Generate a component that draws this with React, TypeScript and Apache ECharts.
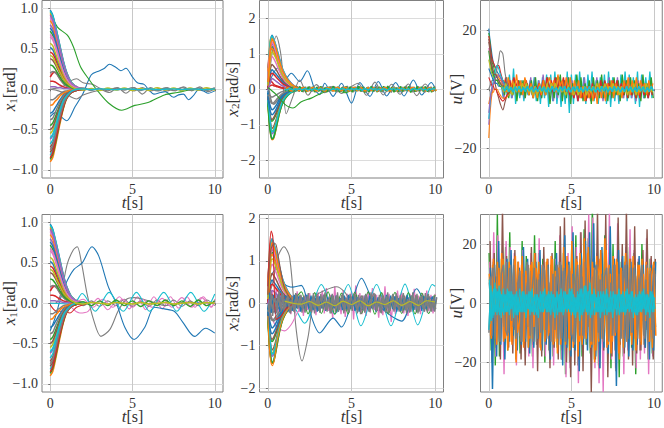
import { useEffect, useRef } from "react";
import * as echarts from "echarts";

const TAB10 = ["#1f77b4", "#ff7f0e", "#2ca02c", "#d62728", "#9467bd", "#8c564b", "#e377c2", "#7f7f7f", "#bcbd22", "#17becf"];
const FONT = "Liberation Serif";

const X_TICKS = [0, 5, 10];
const X1_TICKS = [-1, -0.5, 0, 0.5, 1];
const X2_TOP_TICKS = [-2, -1, 0, 1, 2];
const X2_BOTTOM_TICKS = [-2, -1, 0, 1, 2];
const U_TICKS = [-20, 0, 20];

// x1 bundle, both rows start from the same initial states
const T_DECAY = [0, 0.15, 0.3, 0.45, 0.6, 0.8, 1, 1.3, 1.7, 2.2];
const X1_DECAY = [
  [0.98, 0.92, 0.8, 0.67, 0.53, 0.35, 0.21, 0.08, 0.02, 0],
  [-0.9, -0.85, -0.72, -0.57, -0.42, -0.24, -0.12, -0.04, -0.01, 0],
  [0.72, 0.67, 0.58, 0.47, 0.36, 0.23, 0.13, 0.05, 0.01, 0],
  [0.15, 0.2, 0.21, 0.18, 0.13, 0.08, 0.04, 0.02, 0, 0],
  [-0.62, -0.58, -0.48, -0.37, -0.26, -0.15, -0.08, -0.03, 0, 0],
  [0.38, 0.36, 0.31, 0.25, 0.19, 0.12, 0.07, 0.03, 0.01, 0],
  [0.88, 0.83, 0.72, 0.6, 0.47, 0.31, 0.18, 0.07, 0.02, 0],
  [-0.13, -0.13, -0.11, -0.08, -0.06, -0.03, -0.02, -0.01, 0, 0],
  [0.95, 0.89, 0.78, 0.65, 0.51, 0.33, 0.2, 0.08, 0.02, 0],
  [-0.82, -0.76, -0.64, -0.5, -0.36, -0.21, -0.11, -0.04, -0.01, 0],
  [0.52, 0.49, 0.42, 0.34, 0.26, 0.17, 0.1, 0.04, 0.01, 0],
  [0.93, 0.88, 0.76, 0.63, 0.5, 0.33, 0.19, 0.07, 0.02, 0],
  [-0.45, -0.42, -0.35, -0.27, -0.19, -0.11, -0.06, -0.02, 0, 0],
  [0.1, 0.1, 0.09, 0.07, 0.05, 0.03, 0.02, 0.01, 0, 0],
  [0.8, 0.75, 0.65, 0.54, 0.42, 0.27, 0.16, 0.06, 0.01, 0],
  [-0.72, -0.67, -0.56, -0.43, -0.31, -0.18, -0.09, -0.03, 0, 0],
  [0.65, 0.61, 0.53, 0.43, 0.33, 0.21, 0.12, 0.05, 0.01, 0],
  [0.2, 0.22, 0.21, 0.17, 0.12, 0.07, 0.04, 0.02, 0, 0],
  [-0.55, -0.51, -0.42, -0.32, -0.23, -0.13, -0.07, -0.02, 0, 0],
  [0.97, 0.91, 0.79, 0.66, 0.52, 0.34, 0.2, 0.08, 0.02, 0],
  [-0.3, -0.28, -0.23, -0.18, -0.13, -0.07, -0.04, -0.01, 0, 0],
  [0.85, 0.8, 0.69, 0.57, 0.45, 0.29, 0.17, 0.06, 0.01, 0],
  [-0.87, -0.81, -0.69, -0.54, -0.39, -0.23, -0.11, -0.04, -0.01, 0],
  [0.46, 0.44, 0.38, 0.3, 0.23, 0.15, 0.09, 0.03, 0.01, 0],
  [0.03, 0.03, 0.03, 0.02, 0.02, 0.01, 0.01, 0, 0, 0],
  [-0.78, -0.73, -0.61, -0.47, -0.34, -0.2, -0.1, -0.03, -0.01, 0],
  [0.9, 0.85, 0.74, 0.61, 0.48, 0.31, 0.18, 0.07, 0.02, 0],
  [-0.38, -0.36, -0.29, -0.22, -0.16, -0.09, -0.05, -0.02, 0, 0],
  [0.57, 0.54, 0.46, 0.37, 0.29, 0.18, 0.11, 0.04, 0.01, 0],
  [-0.68, -0.63, -0.53, -0.41, -0.29, -0.17, -0.09, -0.03, 0, 0],
  [0.76, 0.71, 0.61, 0.5, 0.39, 0.25, 0.14, 0.05, 0.01, 0],
  [-0.2, -0.19, -0.15, -0.12, -0.08, -0.05, -0.03, -0.01, 0, 0],
  [0.3, 0.29, 0.25, 0.2, 0.15, 0.09, 0.05, 0.02, 0, 0],
  [-0.85, -0.79, -0.66, -0.52, -0.38, -0.22, -0.11, -0.04, -0.01, 0],
  [0.92, 0.86, 0.75, 0.62, 0.49, 0.32, 0.19, 0.07, 0.02, 0],
  [-0.5, -0.47, -0.39, -0.3, -0.21, -0.12, -0.06, -0.02, 0, 0],
  [0.68, 0.64, 0.55, 0.45, 0.34, 0.22, 0.13, 0.05, 0.01, 0],
  [-0.75, -0.7, -0.58, -0.45, -0.33, -0.19, -0.1, -0.03, 0, 0],
  [0.42, 0.4, 0.34, 0.27, 0.21, 0.13, 0.08, 0.03, 0, 0],
  [-0.6, -0.56, -0.47, -0.36, -0.25, -0.14, -0.08, -0.02, 0, 0],
];

// x1 top row, the slow trajectories
const A_BLUE_T = [0, 0.3, 0.6, 1, 1.5, 2, 2.5, 3, 3.3, 3.6, 4, 4.3, 4.6, 5, 5.3, 5.7, 6, 6.3, 6.7, 7, 7.5, 7.8, 8.1, 8.4, 8.7, 9, 9.3, 9.6, 10];
const A_BLUE = [-0.34, -0.29, -0.33, -0.39, -0.22, -0.05, 0.18, 0.23, 0.26, 0.31, 0.27, 0.23, 0.26, 0.15, 0.08, 0.06, -0.01, -0.06, -0.04, -0.03, -0.1, -0.07, -0.06, -0.13, -0.08, -0.01, -0.02, -0.05, -0.02];
const A_GREEN_T = [0, 0.44, 1.04, 1.4, 1.84, 2.38, 2.84, 3.54, 4.34, 5.14, 5.94, 6.94, 7.74, 8.5, 10];
const A_GREEN = [0.96, 0.77, 0.67, 0.53, 0.28, 0.115, -0.01, -0.17, -0.26, -0.2, -0.165, -0.07, -0.04, -0.01, 0];
const A_GREY_T = [0, 0.5, 1, 1.3, 1.6, 2, 2.6, 3.1, 3.6, 4.1, 4.6, 5.1, 5.6, 6.1, 6.6, 7.1, 7.6, 8.1, 8.6, 9.1, 9.6, 10];
const A_GREY_UP = [0, 0.02, 0.06, 0.11, 0.13, 0.08, 0.06, 0, -0.04, 0.02, -0.05, 0.02, -0.06, 0.02, -0.02, 0.02, -0.02, 0.03, -0.02, 0.03, -0.03, 0.01];
const A_GREY_DOWN = [0, -0.02, -0.06, -0.1, -0.12, -0.07, -0.03, -0.01, 0.01, -0.01, 0.01, -0.02, 0.02, -0.02, 0.01, -0.02, 0.01, -0.01, 0.01, -0.01, 0.01, 0];

// small residual band of x1, top row
const T_TAIL = [1.5, 2, 2.5, 3, 3.5, 4, 4.5, 5, 5.5, 6, 6.5, 7, 7.5, 8, 8.5, 9, 9.5, 10];
const A_TAIL_1 = [0.01, -0.01, 0.01, -0.015, 0.015, -0.01, 0.015, -0.015, 0.01, -0.015, 0.02, -0.01, 0.015, -0.02, 0.015, -0.01, 0.02, -0.015];
const A_TAIL_2 = [-0.01, 0.015, -0.015, 0.01, -0.02, 0.015, -0.01, 0.02, -0.015, 0.01, -0.02, 0.015, -0.015, 0.02, -0.01, 0.015, -0.015, 0.02];
const A_TAIL_3 = [0, 0.005, -0.005, 0.005, 0, -0.005, 0.005, 0, -0.005, 0.005, -0.005, 0, 0.005, -0.005, 0.005, 0, -0.005, 0.005];

// x1 bottom row
const B_BLUE_T = [0, 0.3, 0.6, 0.94, 1.44, 1.94, 2.54, 2.94, 3.54, 4.04, 4.54, 5.1, 5.74, 6.34, 6.94, 7.54, 8.04, 8.78, 9.44, 10];
const B_BLUE = [-0.34, -0.18, 0.04, 0.24, 0.42, 0.5, 0.7, 0.59, 0.2, -0.01, -0.3, -0.45, -0.3, -0.05, -0.07, -0.1, -0.23, -0.41, -0.31, -0.37];
const B_GREY_T = [0, 0.3, 0.64, 1.04, 1.4, 1.64, 1.9, 2.24, 2.64, 3.08, 3.64, 4.14, 4.64, 5.1, 6, 7, 8, 10];
const B_GREY = [0, 0, 0.115, 0.49, 0.66, 0.7, 0.5, 0.115, -0.21, -0.41, -0.32, -0.09, 0.05, 0.07, 0.03, -0.03, 0.01, 0];
const B_CYAN_T = [0, 1.4, 1.94, 2.74, 3.58, 4.44, 5.24, 6.04, 6.9, 7.7, 8.54, 9.34, 10];
const B_CYAN = [0, -0.01, 0.12, -0.1, 0.135, -0.1, 0.135, -0.1, 0.135, -0.1, 0.135, -0.1, 0.115];
const B_PINK_T = [0, 0.4, 0.8, 1.2, 1.8, 2.3, 2.9, 3.5, 4.2, 4.8, 5.3, 5.8, 6.3, 6.8, 7.3, 7.8, 8.3, 8.8, 9.3, 9.8, 10];
const B_PINK = [0.2, 0.22, 0.12, -0.03, -0.12, -0.1, 0.06, -0.08, 0.08, -0.07, 0.08, -0.08, 0.08, -0.07, 0.08, -0.06, 0.08, -0.05, 0.08, -0.04, 0.02];
const B_PINK_2_T = [1.5, 2, 2.6, 3.2, 3.8, 4.4, 5, 5.6, 6.2, 6.8, 7.4, 8, 8.6, 9.2, 9.8, 10];
const B_PINK_2 = [0, 0.05, -0.05, 0.05, -0.05, 0.05, -0.05, 0.05, -0.05, 0.06, -0.05, 0.07, -0.05, 0.07, -0.05, 0.05];
const B_RED_T = [0, 0.4, 0.8, 1.2, 1.6, 2.2];
const B_RED = [-0.02, -0.1, -0.1, -0.12, -0.05, -0.01];
const B_TAIL_1 = [0.02, -0.03, 0.03, -0.04, 0.03, -0.03, 0.05, -0.04, 0.03, -0.04, 0.04, -0.03, 0.04, -0.04, 0.03, -0.03, 0.04, -0.03];
const B_TAIL_2 = [-0.02, 0.02, -0.03, 0.03, -0.03, 0.04, -0.03, 0.03, -0.04, 0.03, -0.03, 0.04, -0.03, 0.03, -0.04, 0.04, -0.03, 0.03];
const B_TAIL_3 = [0, -0.01, 0.01, 0, -0.01, 0.01, 0, -0.01, 0.01, -0.01, 0, 0.01, -0.01, 0, 0.01, -0.01, 0.01, 0];

// x2 bundle
const T_RATE = [0, 0.08, 0.16, 0.25, 0.35, 0.5, 0.7, 0.9, 1.2, 1.6, 2.2];
const X2_DECAY = [
  [0.1, 0.9, 1.35, 1.52, 1.42, 1.2, 0.85, 0.55, 0.28, 0.09, 0.01],
  [-0.2, -0.9, -1.25, -1.42, -1.38, -1.1, -0.67, -0.38, -0.17, -0.05, -0.01],
  [0.3, 0.7, 1.05, 1.2, 1.15, 0.95, 0.68, 0.43, 0.2, 0.07, 0.01],
  [0.05, 0.3, 0.22, 0.2, 0.14, 0.1, 0.07, 0.04, 0.02, 0.01, 0],
  [-0.3, -0.8, -1.1, -1.25, -1.2, -0.98, -0.6, -0.33, -0.14, -0.04, 0],
  [0, 0.4, 0.6, 0.7, 0.65, 0.55, 0.38, 0.24, 0.12, 0.04, 0],
  [0.2, 1.0, 1.4, 1.48, 1.4, 1.18, 0.82, 0.52, 0.26, 0.08, 0.01],
  [-0.05, -0.15, -0.2, -0.22, -0.2, -0.16, -0.1, -0.06, -0.03, -0.01, 0],
  [0.4, 1.05, 1.42, 1.45, 1.38, 1.15, 0.8, 0.5, 0.25, 0.08, 0.01],
  [-0.1, -0.75, -1.2, -1.38, -1.33, -1.05, -0.64, -0.36, -0.16, -0.05, 0],
  [-0.15, 0.2, 0.45, 0.55, 0.5, 0.42, 0.3, 0.19, 0.09, 0.03, 0],
  [0.25, 0.95, 1.25, 1.38, 1.3, 1.08, 0.75, 0.48, 0.24, 0.08, 0.01],
  [-0.4, -0.7, -0.85, -0.9, -0.85, -0.7, -0.43, -0.24, -0.1, -0.03, 0],
  [0.02, 0.08, 0.1, 0.12, 0.1, 0.08, 0.05, 0.03, 0.01, 0, 0],
  [0.6, 0.95, 1.15, 1.28, 1.2, 1.0, 0.7, 0.44, 0.22, 0.07, 0.01],
  [-0.25, -0.65, -0.95, -1.1, -1.05, -0.85, -0.52, -0.29, -0.12, -0.03, 0],
  [0.1, 0.55, 0.8, 0.92, 0.86, 0.72, 0.5, 0.32, 0.16, 0.05, 0],
  [0.05, -0.05, -0.25, -0.38, -0.42, -0.36, -0.24, -0.14, -0.06, -0.02, 0],
  [-0.5, -0.8, -1.05, -1.18, -1.12, -0.92, -0.56, -0.31, -0.13, -0.04, 0],
  [0.15, 0.98, 1.38, 1.5, 1.4, 1.18, 0.83, 0.53, 0.27, 0.08, 0.01],
  [-0.1, -0.35, -0.5, -0.58, -0.55, -0.45, -0.28, -0.16, -0.07, -0.02, 0],
  [0.5, 0.9, 1.1, 1.15, 1.08, 0.9, 0.63, 0.4, 0.2, 0.06, 0],
  [-0.35, -0.95, -1.25, -1.4, -1.36, -1.08, -0.66, -0.37, -0.16, -0.05, 0],
  [0, 0.25, 0.4, 0.45, 0.42, 0.34, 0.24, 0.15, 0.07, 0.02, 0],
  [-0.02, 0.1, 0.2, 0.3, 0.28, 0.22, 0.15, 0.09, 0.04, 0.01, 0],
  [-0.2, -0.55, -0.78, -0.85, -0.8, -0.65, -0.4, -0.22, -0.09, -0.02, 0],
  [0.3, 0.8, 1.18, 1.33, 1.25, 1.05, 0.73, 0.46, 0.23, 0.07, 0.01],
  [-0.15, -0.25, -0.35, -0.4, -0.38, -0.3, -0.19, -0.11, -0.05, -0.01, 0],
  [0.1, 0.45, 0.9, 1.05, 1.0, 0.85, 0.6, 0.38, 0.19, 0.06, 0],
  [-0.3, -0.6, -0.98, -1.2, -1.16, -0.94, -0.58, -0.32, -0.14, -0.04, 0],
  [-0.2, -0.45, -0.65, -0.72, -0.68, -0.56, -0.34, -0.19, -0.08, -0.02, 0],
  [0.2, 0.65, 1.2, 1.42, 1.35, 1.12, 0.78, 0.5, 0.25, 0.08, 0.01],
];

// x2 top row, slow trajectories
const C_BLUE_T = [0, 0.6, 1, 1.4, 1.9, 2.36, 2.8, 3.1, 3.4, 3.9, 4.4, 5, 5.5, 6.1, 6.6, 7.1, 7.64, 8.14, 8.7, 9.2, 9.76, 10];
const C_BLUE = [0.1, 0.6, 0.25, 0.45, 0.22, 0.52, 0, -0.15, 0.17, -0.2, 0.17, -0.39, 0.19, -0.2, 0.22, -0.19, 0.19, -0.19, 0.26, -0.16, 0.19, 0.03];
const C_GREY_T = [0, 0.25, 0.5, 0.8, 1.1, 1.5, 1.9, 2.4, 2.9, 3.4, 3.9, 4.4, 4.9, 5.4, 5.9, 6.4, 6.9, 7.4, 7.9, 8.4, 8.9, 9.4, 9.9, 10];
const C_GREY = [0, 1.0, 1.5, 0.9, -0.69, -0.2, 0.26, -0.17, 0.13, -0.1, 0.08, -0.12, 0.05, 0.17, -0.17, 0.2, -0.16, 0.14, -0.14, 0.15, -0.18, 0.15, -0.06, 0.02];
const C_GREEN_T = [0, 0.5, 1, 1.5, 2, 2.6, 3.2, 4, 4.6, 5.4, 6, 7, 8, 9, 10];
const C_GREEN = [0.05, -0.15, -0.42, -0.53, -0.35, -0.25, -0.11, 0, -0.1, 0.04, -0.05, 0.04, -0.04, 0.03, 0];

// x2 top row residual band, starts at t = 1
const BAND_START = 1;
const C_BAND_1 = [0.04, -0.06, 0.06, -0.07, 0.07, -0.05, 0.08, -0.07, 0.05, -0.08, 0.07, -0.06, 0.08, -0.07, 0.06, -0.08, 0.07, -0.05, 0.08, -0.08, 0.06, -0.07, 0.08, -0.06, 0.07, -0.08, 0.06, -0.07, 0.08, -0.06, 0.09, -0.07, 0.06, -0.08, 0.07, -0.05, 0.08, -0.07, 0.06, -0.09, 0.07, -0.05, 0.08, -0.06, 0.09, -0.07, 0.05, -0.08, 0.07, -0.06, 0.08, -0.09, 0.06, -0.07, 0.05, -0.08, 0.07, -0.06, 0.09, -0.05, 0.07, -0.08, 0.06, -0.07, 0.08, -0.05, 0.07, -0.09, 0.06, -0.08, 0.07, -0.06, 0.08];
const C_BAND_2 = [-0.05, 0.05, -0.07, 0.06, -0.06, 0.07, -0.05, 0.08, -0.07, 0.06, -0.08, 0.07, -0.05, 0.07, -0.08, 0.06, -0.06, 0.08, -0.07, 0.05, -0.08, 0.07, -0.05, 0.08, -0.06, 0.07, -0.08, 0.05, -0.07, 0.08, -0.06, 0.07, -0.08, 0.06, -0.05, 0.08, -0.06, 0.07, -0.09, 0.05, -0.07, 0.08, -0.06, 0.05, -0.08, 0.07, -0.06, 0.08, -0.05, 0.09, -0.07, 0.06, -0.08, 0.05, -0.07, 0.08, -0.06, 0.07, -0.05, 0.08, -0.09, 0.06, -0.07, 0.08, -0.05, 0.07, -0.06, 0.08, -0.07, 0.05, -0.08, 0.06, -0.05];
const C_BAND_3 = [0.02, 0.04, -0.03, -0.05, 0.04, 0.05, -0.04, -0.03, 0.05, 0.03, -0.05, -0.04, 0.03, 0.05, -0.03, -0.05, 0.04, 0.03, -0.04, -0.05, 0.05, 0.03, -0.03, -0.05, 0.04, 0.05, -0.04, -0.03, 0.05, 0.04, -0.05, -0.03, 0.04, 0.05, -0.04, -0.03, 0.05, -0.02, -0.05, 0.04, 0.03, -0.04, 0.05, -0.03, -0.05, 0.04, -0.02, 0.05, 0.03, -0.04, -0.05, 0.04, 0.02, -0.05, 0.04, -0.03, 0.05, -0.04, 0.03, -0.05, 0.04, 0.05, -0.03, -0.04, 0.05, -0.02, 0.04, -0.05, 0.03, 0.04, -0.05, 0.03, -0.04];
const C_BAND_4 = [0, -0.02, 0.02, 0.01, -0.02, 0.02, -0.01, 0.02, -0.02, 0.01, 0.02, -0.02, 0.01, -0.02, 0.02, 0.01, -0.02, 0.02, -0.01, -0.02, 0.02, 0.01, -0.02, 0.02, -0.01, 0.02, -0.02, 0.01, 0.02, -0.02, 0.01, -0.02, 0.02, -0.01, 0.02, -0.02, 0.01, -0.03, 0.02, 0, -0.02, 0.03, -0.01, 0.02, -0.03, 0.01, -0.02, 0.02, 0, -0.03, 0.02, -0.01, 0.03, -0.02, 0.01, -0.02, 0.03, 0, -0.02, 0.02, -0.03, 0.01, 0.02, -0.02, 0, 0.03, -0.02, 0.01, -0.03, 0.02, -0.01, 0.02, 0];

// x2 bottom row, slow trajectories
const D_GREY_T = [0, 0.3, 0.6, 0.96, 1.3, 1.7, 2.04, 2.4, 2.8, 3.4, 4.1, 4.6, 5, 5.6, 6.2, 7, 8, 9, 10];
const D_GREY = [0.1, 0.5, 1.1, 1.33, 1.08, -0.64, -1.36, -0.8, 0.14, 0.3, 0.39, 0.26, 0, -0.15, 0.1, -0.08, 0.06, -0.05, 0.02];
const D_BLUE_T = [0, 0.5, 1, 1.5, 2, 2.5, 3.1, 3.9, 4.4, 5, 5.6, 6.2, 7.2, 8, 8.9, 9.4, 10];
const D_BLUE = [0.5, 0.8, 0.45, 0.38, 0.42, -0.2, -0.7, -0.35, -0.56, 0, 0.59, 0.14, -0.25, -0.42, 0.34, 0.1, 0.14];
const D_CYAN_T = [0, 0.8, 1.5, 2.2, 3.2, 4, 4.8, 5.56, 6.5, 7.36, 8.2, 8.96, 9.84, 10];
const D_CYAN = [0, 0.1, -0.05, -0.47, 0.44, -0.25, 0.44, -0.53, 0.44, -0.53, 0.45, -0.51, 0.44, 0.4];
const D_GREEN_T = [1.2, 1.6, 2, 2.4, 2.8, 3.2, 3.6, 4, 4.4, 4.8, 5.2, 5.6, 6, 6.4, 6.8, 7.2, 7.6, 8, 8.4, 8.8, 9.2, 9.6, 10];
const D_GREEN = [0.05, 0.1, 0.27, -0.25, 0.25, -0.24, 0.27, -0.26, 0.24, -0.25, 0.26, -0.24, 0.27, -0.26, 0.25, -0.25, 0.26, -0.24, 0.25, -0.25, 0.24, -0.24, 0.2];
const D_RED_T = [0, 0.1, 0.2, 0.3, 0.5, 0.8, 1.1, 1.5];
const D_RED = [0.4, 1.3, 1.7, 1.55, -0.38, -0.3, -0.12, -0.02];
const D_ORANGE_T = [0, 0.1, 0.2, 0.28, 0.4, 0.6, 0.9, 1.3];
const D_ORANGE = [-0.3, -1.1, -1.42, -1.47, -1.3, -0.8, -0.35, -0.08];
const D_BROWN_T = [0, 0.15, 0.3, 0.45, 0.6, 0.8, 1, 1.4];
const D_BROWN = [0.2, 1.2, 1.38, 1.4, 1.15, 0.7, 0.35, 0.08];
const D_PINK_T = [0, 0.5, 1, 1.4, 1.8, 2.2];
const D_PINK = [-0.1, -0.55, -0.65, -0.5, -0.2, -0.03];
const D_YELLOW_T = [1, 1.5, 2, 2.5, 3, 3.5, 4, 4.5, 5, 5.5, 6, 6.5, 7, 7.5, 8, 8.5, 9, 9.5, 10];
const D_YELLOW = [0.05, 0, -0.02, 0.04, -0.05, 0.03, -0.06, 0.05, -0.03, 0.06, -0.06, 0.03, -0.03, 0.06, -0.05, 0.04, -0.05, 0.06, 0.03];

// x2 bottom row noise, one sample every 0.125 s
const NOISE_STEP = 0.125;
const D_NOISE_1 = [0.1, -0.35, 0.3, -0.22, 0.36, -0.28, 0.2, -0.3, 0.24, -0.18, 0.22, -0.26, 0.18, -0.24, 0.28, -0.2, 0.16, -0.3, 0.22, -0.16, 0.24, -0.22, 0.18, -0.28, 0.26, -0.2, 0.3, -0.24, 0.36, -0.18, 0.2, -0.36, 0.4, -0.22, 0.16, -0.26, 0.3, -0.32, 0.22, -0.18, 0.28, -0.38, 0.42, -0.2, 0.24, -0.26, 0.18, -0.3, 0.28, -0.22, 0.36, -0.16, 0.2, -0.34, 0.24, -0.28, 0.4, -0.2, 0.22, -0.44, 0.18, -0.26, 0.3, -0.18, 0.26, -0.24, 0.16, -0.3, 0.22, -0.2, 0.34, -0.22, 0.18, -0.26, 0.24, -0.2, 0.3, -0.18, 0.2, -0.24, 0.22];
const D_NOISE_2 = [-0.2, 0.28, -0.3, 0.26, -0.24, 0.3, -0.2, 0.22, -0.16, 0.2, -0.22, 0.16, -0.2, 0.24, -0.14, 0.2, -0.22, 0.18, -0.16, 0.24, -0.2, 0.14, -0.24, 0.2, -0.18, 0.22, -0.14, 0.26, -0.2, 0.16, -0.24, 0.18, -0.22, 0.26, -0.16, 0.2, -0.24, 0.14, -0.2, 0.22, -0.18, 0.24, -0.16, 0.2, -0.26, 0.18, -0.22, 0.16, -0.2, 0.26, -0.14, 0.22, -0.18, 0.2, -0.24, 0.16, -0.22, 0.26, -0.18, 0.14, -0.2, 0.24, -0.16, 0.2, -0.22, 0.18, -0.24, 0.14, -0.2, 0.26, -0.16, 0.22, -0.2, 0.18, -0.14, 0.24, -0.22, 0.16, -0.2, 0.18, -0.14];
const D_NOISE_3 = [0.25, -0.22, 0.2, -0.26, 0.18, -0.2, 0.24, -0.14, 0.18, -0.2, 0.12, -0.18, 0.2, -0.12, 0.16, -0.2, 0.14, -0.16, 0.2, -0.12, 0.18, -0.16, 0.12, -0.2, 0.16, -0.12, 0.2, -0.18, 0.14, -0.16, 0.2, -0.12, 0.18, -0.2, 0.12, -0.16, 0.18, -0.14, 0.2, -0.12, 0.16, -0.18, 0.14, -0.2, 0.12, -0.16, 0.2, -0.14, 0.18, -0.12, 0.16, -0.2, 0.14, -0.18, 0.12, -0.16, 0.2, -0.12, 0.18, -0.14, 0.16, -0.2, 0.12, -0.18, 0.14, -0.16, 0.2, -0.12, 0.18, -0.16, 0.14, -0.2, 0.12, -0.18, 0.16, -0.14, 0.2, -0.12, 0.16, -0.18, 0.14];
const D_NOISE_4 = [-0.12, 0.1, -0.14, 0.12, -0.1, 0.14, -0.12, 0.1, -0.08, 0.12, -0.1, 0.08, -0.12, 0.1, -0.08, 0.12, -0.1, 0.08, -0.12, 0.14, -0.08, 0.1, -0.12, 0.08, -0.1, 0.12, -0.08, 0.1, -0.14, 0.08, -0.1, 0.12, -0.08, 0.14, -0.1, 0.08, -0.12, 0.1, -0.08, 0.12, -0.14, 0.08, -0.1, 0.12, -0.08, 0.1, -0.12, 0.14, -0.08, 0.1, -0.12, 0.08, -0.1, 0.14, -0.08, 0.12, -0.1, 0.08, -0.12, 0.1, -0.14, 0.08, -0.1, 0.12, -0.08, 0.1, -0.12, 0.08, -0.14, 0.1, -0.08, 0.12, -0.1, 0.08, -0.12, 0.14, -0.08, 0.1, -0.12, 0.08, -0.1];
const D_NOISE_5 = [-0.16, 0.2, 0.05, -0.22, 0.18, -0.08, 0.24, -0.2, 0.1, 0.16, -0.24, 0.06, -0.18, 0.22, -0.1, 0.2, -0.06, -0.22, 0.16, 0.08, -0.2, 0.24, -0.12, 0.18, -0.22, 0.04, 0.2, -0.16, 0.1, -0.24, 0.22, -0.08, 0.18, -0.2, 0.06, 0.24, -0.18, 0.12, -0.22, 0.16, -0.04, 0.2, -0.24, 0.1, 0.18, -0.16, 0.22, -0.08, -0.2, 0.14, 0.24, -0.18, 0.06, -0.22, 0.2, -0.1, 0.16, -0.24, 0.08, 0.22, -0.14, 0.18, -0.2, 0.04, 0.24, -0.16, 0.1, -0.22, 0.18, -0.06, 0.2, -0.24, 0.12, 0.16, -0.2, 0.08, 0.22, -0.18, 0.1, -0.2, 0.14];

// u top row, first second
const T_EFFORT = [0, 0.07, 0.14, 0.21, 0.28, 0.35, 0.42, 0.5, 0.6, 0.7, 0.85, 1, 1.2, 1.5];
const E_DECAY = [
  [20.5, 17, 14, 11, 9, 8, 7, 6, 5, 4, 3, 2, 1, 0],
  [-16.5, -9, -4, -1, 1, 3, 4, 5, 4, 3, 2, 1, 0, 0],
  [19, 16, 12, 9, 8, 6, 5, 4, 3, 2, 1, 1, 0, 0],
  [18, 15, 12, 10, 9, 8, 7, 8, 8, 6, 3, 1, 0, 0],
  [-12, -6, -2, 0, 2, 2, 3, 3, 3, 2, 1, 1, 0, 0],
  [17, 14, 10, 8, 5, 3, 1, -1, -3, -5, -7, -4, -1, 0],
  [14, 11, 8, 6, 5, 4, 3, 3, 2, 2, 1, 0, 0, 0],
  [0, 1, 2, 3, 3, 4, 5, 7, 10, 13, 12, 5, 1, 0],
  [10, 8, 6, 5, 4, 4, 3, 3, 2, 2, 1, 0, 0, 0],
  [-10, -5, -1, 1, 3, 5, 7, 8, 7, 5, 3, 1, 0, 0],
  [7, 6, 5, 4, 3, 3, 2, 2, 1, 1, 0, 0, 0, 0],
  [-5, -3, -2, -1, -1, 0, 0, 0, -1, -2, -3, -3, -2, 0],
  [13, 10, 8, 6, 5, 4, 3, 3, 2, 1, 1, 0, 0, 0],
  [4, 3, 2, 1, 1, 0, 0, -1, -2, -3, -4, -3, -1, 0],
  [-8, -4, -1, 1, 2, 3, 4, 4, 5, 4, 2, 1, 0, 0],
  [16, 13, 9, 7, 6, 5, 5, 4, 3, 2, 1, 1, 0, 0],
];

// u top row noise, starts at t = 0.75
const NOISE_START_TOP = 0.75;
const E_NOISE_PURPLE = [2, -3, 3, -2, 3, -3, 2, -2, 3, -2, 2, -3, 2, -2, 4, -3, 4, -2, 3, -3, 5, -2, 4, -3, 3, -4, 2, -3, 4, -3, 3, -2, 4, -4, 3, -3, 2, -4, 3, -2, 4, -3, 2, -4, 3, -3, 4, -2, 3, -4, 2, -3, 4, -3, 3, -2, 4, -4, 2, -3, 3, -2, 4, -3, 2, -4, 3, -2, 4, -3, 2, -3, 3, -2];
const E_NOISE_GREEN = [3, -2, 4, -3, 2, -2, 3, -4, 3, -2, 3, -3, 2, -2, 3, -3, 4, -4, 2, -3, 3, -2, 4, -5, 2, -3, 4, -2, 5, -4, 3, -3, 4, -5, 2, -2, 5, -3, 4, -4, 2, -3, 3, -5, 4, -2, 3, -3, 5, -3, 2, -4, 3, -3, 4, -2, 3, -4, 5, -2, 3, -3, 4, -2, 3, -3, 2, -4, 5, -3, 2, -2, 4, -3];
const E_NOISE_RED = [4, -1, 4, 1, 3, 0, 4, 1, 3, -1, 2, 1, 3, -1, 2, -2, 1, -2, 2, -2, 3, -1, 4, 0, 3, -1, 4, 0, 3, 1, 4, -1, 2, -2, 1, -3, 0, -4, 1, -3, 0, -4, 1, -3, 2, -3, 1, -2, 3, -1, 3, 0, 2, -1, 3, 0, 3, -1, 2, -2, 2, -3, 1, -2, 2, -3, 1, -3, 2, -2, 1, -3, 1, -2];
const E_NOISE_ORANGE = [1, 3, -1, 4, -1, 3, 0, 5, -1, 3, -2, 4, 1, -2, 2, -3, 1, -3, 2, -2, 3, -2, 2, 4, 0, 3, -1, 5, 1, 3, -1, 4, 0, 4, -2, 3, -1, 3, -3, 1, -4, 1, -3, 0, -4, 1, -5, 2, -3, 1, -4, 2, -2, 3, -3, 2, -2, 1, -3, 3, -1, 4, -2, 3, -1, 4, -2, 3, 0, 2, -2, 3, -1, 2];
const E_NOISE_CYAN = [2, -3, 1, -2, 5, -3, 7, -5, 2, -3, 3, -4, 2, -2, 3, -2, 4, -4, 3, -5, 4, -3, 5, -6, 5, -4, 6, -5, 4, -6, 3, -5, 6, -8, 5, -5, 5, -4, 6, -3, 4, -5, 5, -3, 6, -4, 3, -5, 4, -3, 5, -5, 6, -6, 4, -4, 3, -5, 5, -3, 6, -4, 5, -3, 4, -5, 6, -6, 5, -3, 4, -3, 6, -3];
const E_NOISE_OLIVE = [1, -1, 2, -1, 1, -2, 2, -1, 1, -1, 2, 0, 2, -1, 1, -2, 1, -2, 0, -1, 1, -1, 2, -1, 2, 0, 2, -1, 1, -1, 0, -2, 1, -1, 0, -2, 1, -2, 0, -1, 1, -2, 0, -1, 1, -1, 2, 0, 1, -1, 2, -1, 1, 0, 2, -1, 1, -2, 1, -1, 0, -2, 1, -1, 2, -2, 0, -1, 1, -1, 2, -1, 1, -1];
const E_NOISE_CENTRE = [0.8, -0.6, 1, -0.8, 0.6, -1, 0.8, -0.6, 1, -0.8, 0.6, -0.8, 1, -0.6, 0.8, -1, 0.6, -0.8, 1, -0.6, 0.8, -1, 0.6, -0.8, 1, -0.8, 0.6, -1, 0.8, -0.6, 1, -0.8, 0.6, -1, 0.8, -0.6, 1, -0.8, 0.6, -1, 0.8, -0.6, 1, -0.6, 0.8, -1, 0.6, -0.8, 1, -0.6, 0.8, -1, 0.6, -0.8, 1, -0.6, 0.8, -1, 0.6, -0.8, 1, -0.6, 0.8, -1, 0.6, -0.8, 1, -0.6, 0.8, -1, 0.6, -0.8, 1, -0.6];

// u bottom row noise, starts at t = 0
const F_PINK = [14, -13, 24, -18, 23, -12, 16, -24, 21, -14, 19, -11, 17, -21, 14, -13, 18, -16, 13, -18, 17, -22, 15, -14, 22, -15, 13, -18, 14, -17, 16, -21, 15, -13, 23, -19, 18, -25, 17, -22, 26, -14, 19, -27, 24, -16, 21, -13, 30, -18, 29, -22, 17, -27, 16, -30, 20, -15, 31, -19, 16, -22, 27, -17, 15, -24, 19, -16, 25, -14, 18, -22, 15, -19, 13, -17, 22, -24, 15, -18, 13];
const F_BROWN = [21, -20, 17, -15, 14, -19, 32, -13, 16, -15, 14, -17, 18, -14, 12, -19, 16, -21, 13, -15, 19, -14, 17, -23, 14, -18, 19, -13, 15, -22, 17, -15, 13, -19, 26, -16, 29, -20, 14, -25, 18, -21, 16, -19, 24, -23, 28, -14, 18, -30, 15, -19, 32, -22, 17, -16, 30, -25, 13, -18, 15, -23, 29, -14, 20, -17, 32, -19, 15, -21, 26, -17, 14, -16, 18, -15, 25, -13, 16, -19, 15];
const F_GREEN = [17, -16, 14, -21, 30, -18, 15, -13, 19, -16, 24, -12, 15, -19, 14, -17, 21, -13, 16, -15, 12, -18, 23, -14, 17, -13, 15, -20, 14, -16, 13, -18, 21, -15, 14, -19, 17, -24, 13, -20, 19, -15, 23, -21, 15, -18, 25, -14, 22, -17, 33, -19, 14, -21, 18, -16, 23, -14, 17, -22, 20, -16, 15, -25, 14, -18, 16, -13, 19, -15, 17, -24, 14, -16, 20, -14, 13, -19, 15, -17, 14];
const F_BLUE_OUT = [12, -29, 13, -18, 21, -14, 12, -19, 15, -13, 18, -11, 13, -16, 12, -14, 19, -13, 15, -17, 12, -15, 14, -12, 18, -16, 11, -14, 13, -19, 15, -12, 17, -14, 13, -21, 23, -15, 14, -18, 24, -16, 14, -23, 17, -14, 21, -16, 24, -15, 27, -18, 13, -22, 19, -15, 14, -17, 26, -13, 15, -28, 18, -12, 16, -15, 13, -18, 14, -16, 12, -14, 16, -12, 13, -15, 11, -19, 13, -16, 14];
const F_ORANGE = [10, -12, 15, -10, 14, -12, 17, -13, 12, -16, 10, -14, 13, -20, 14, -11, 16, -13, 11, -15, 13, -12, 17, -11, 14, -16, 12, -13, 15, -10, 16, -14, 11, -17, 13, -12, 19, -14, 12, -16, 21, -13, 15, -18, 17, -14, 22, -12, 19, -15, 14, -20, 16, -13, 18, -12, 22, -15, 13, -17, 16, -11, 14, -19, 12, -15, 17, -12, 15, -14, 11, -16, 13, -12, 15, -11, 14, -13, 12, -15, 11];
const F_ORANGE_2 = [-11, 13, 6, -14, 12, -5, 15, -12, -7, 14, -13, 9, 16, -10, -6, 13, -15, 11, 5, -12, 14, -8, 12, 7, -15, 13, -9, 14, -11, -6, 15, -13, 8, 12, -14, 10, -7, 16, -12, 11, -15, 6, 14, -13, -8, 15, -11, 17, 7, -14, 12, -16, 9, 15, -12, -7, 18, -14, 10, -13, 6, 15, -17, 12, -9, 14, -13, 7, -11, 16, -12, 8, 13, -14, 10, -6, 12, -13, 9, 14, -11];
const F_GREY = [9, -11, 13, -9, 12, -13, 11, -8, 14, -10, 13, -8, 12, -11, 9, -13, 10, -12, 14, -8, 11, -13, 9, -12, 10, -14, 12, -9, 13, -10, 11, -13, 9, -12, 14, -10, 12, -8, 13, -11, 10, -14, 12, -9, 13, -11, 14, -10, 12, -13, 9, -14, 11, -12, 10, -13, 14, -9, 12, -11, 13, -10, 9, -13, 11, -12, 14, -8, 12, -10, 13, -9, 11, -13, 10, -12, 13, -9, 11, -12, 10];
const F_GREY_2 = [-10, 8, 12, -12, 5, -13, 10, 13, -9, -11, 12, -6, 13, -12, 7, 11, -13, 9, -8, 13, -11, 6, 12, -13, 8, -10, 13, 11, -12, 7, -13, 10, -9, 13, 6, -12, 11, -13, 8, 12, -10, -13, 7, 13, -11, 9, -12, 12, -8, 6, -13, 11, 13, -10, 8, -12, 9, 12, -13, 7, -11, 13, -9, 10, -12, 6, 13, -13, 8, -10, 12, 9, -12, 7, 13, -11, 8, -13, 10, -9, 12];
const F_BLUE_MID = [7, -9, 8, -7, 9, -6, 7, -8, 6, -9, 5, -7, 8, -6, 7, -9, 6, -8, 7, -5, 9, -6, 8, -7, 5, -9, 7, -6, 8, -8, 6, -7, 9, -5, 7, -8, 6, -9, 8, -7, 5, -8, 9, -6, 7, -9, 6, -8, 7, -5, 9, -7, 6, -8, 8, -6, 5, -9, 7, -8, 9, -6, 7, -5, 8, -9, 6, -7, 8, -6, 9, -5, 7, -8, 6, -7, 9, -6, 8, -5, 7];
const F_BLUE_2 = [-8, 6, -3, 9, -7, 2, 8, -9, 4, -6, 8, -2, -9, 7, -5, 9, -3, 6, -8, 4, 7, -9, 3, -6, 9, -4, 5, -8, 7, -2, 9, -6, 3, -9, 8, -5, 4, 9, -7, -3, 8, -9, 5, -6, 9, -2, 7, -8, 4, -5, 9, -7, 3, 8, -9, 6, -4, 7, -8, 2, 9, -6, 5, -9, 4, 7, -3, -8, 6, -5, 9, -7, 2, 8, -6, 4, -9, 7, -3, 6, -8];
const F_CYAN_1 = [-9, 6, -5, 7, -4, 6, -5, 5, -3, 5, -4, 4, -5, 3, -4, 5, -3, 4, -5, 3, -4, 5, -4, 3, -5, 4, -3, 5, -3, 4, -4, 3, -5, 4, -3, 5, -4, 4, -3, 5, -4, 3, -5, 4, -6, 5, -3, 6, -4, 7, -4, 5, -3, 4, -5, 3, -4, 5, -3, 4, -5, 3, -4, 5, -3, 4, -4, 5, -3, 4, -5, 3, -4, 4, -3, 5, -4, 3, -5, 4, -3];
const F_CYAN_2 = [-7, 4, -4, 5, -3, 4, -3, 3, -3, 4, -2, 3, -3, 4, -3, 2, -3, 3, -2, 4, -3, 2, -3, 3, -2, 3, -3, 2, -3, 3, -2, 3, -2, 3, -3, 2, -3, 3, -2, 4, -3, 2, -3, 3, -4, 3, -2, 4, -3, 3, -2, 3, -3, 2, -3, 4, -2, 3, -3, 2, -3, 3, -2, 3, -3, 2, -3, 3, -2, 4, -3, 2, -3, 3, -2, 3, -3, 2, -2, 3, -2];
const F_CYAN_3 = [8, -6, 5, -3, 4, -4, 3, -4, 3, -3, 4, -2, 3, -4, 2, -3, 4, -3, 3, -2, 4, -3, 3, -4, 2, -3, 4, -2, 3, -3, 4, -3, 2, -4, 3, -3, 4, -2, 3, -3, 5, -4, 2, -3, 5, -4, 6, -3, 4, -5, 3, -4, 2, -3, 4, -3, 3, -4, 2, -3, 4, -2, 3, -4, 3, -3, 4, -2, 3, -3, 2, -4, 3, -3, 4, -2, 3, -3, 4, -3, 2];

type Trace = { t: number[]; v: number[]; color: string; smooth?: boolean; width?: number };

function cycle(t: number[], rows: number[][], width = 1.5): Trace[] {
  return rows.map((v, i) => ({ t, v, color: TAB10[i % 10], smooth: true, width }));
}

function noise(v: number[], color: string, start = 0, width = 1.3): Trace {
  return { t: v.map((_, i) => start + i * NOISE_STEP), v, color, width };
}

const tail = (v: number[], color: string): Trace => ({ t: T_TAIL, v, color, smooth: true, width: 1.4 });
const slow = (t: number[], v: number[], color: string): Trace => ({ t, v, color, smooth: true, width: 1.1 });

const [BLUE, ORANGE, GREEN, RED, PURPLE, BROWN, PINK, GREY, OLIVE, CYAN] = TAB10;

const PANELS = [
  {
    left: 39.5, top: 0.5, width: 183.5, height: 177.5, ticks: X1_TICKS, digits: 1, min: -1.1, max: 1.1, nameGap: 24,
    name: "{i|x}{sub|1}{r|[rad]}",
    traces: [
      slow(A_BLUE_T, A_BLUE, BLUE),
      slow(A_GREY_T, A_GREY_UP, GREY),
      slow(A_GREY_T, A_GREY_DOWN, GREY),
      slow(A_GREEN_T, A_GREEN, GREEN),
      ...cycle(T_DECAY, X1_DECAY),
      tail(A_TAIL_1, OLIVE),
      tail(A_TAIL_2, GREY),
      tail(A_TAIL_3, CYAN),
    ],
  },
  {
    left: 259.5, top: 0.5, width: 184, height: 177.5, ticks: X2_TOP_TICKS, digits: 0, min: -2.5, max: 2.5, nameGap: 19,
    name: "{i|x}{sub|2}{r|[rad/s]}",
    traces: [
      slow(C_BLUE_T, C_BLUE, BLUE),
      slow(C_GREY_T, C_GREY, GREY),
      ...cycle(T_RATE, X2_DECAY),
      slow(C_GREEN_T, C_GREEN, GREEN),
      noise(C_BAND_1, GREY, BAND_START, 1.5),
      noise(C_BAND_2, GREEN, BAND_START + 0.04, 1.5),
      noise(C_BAND_3, ORANGE, BAND_START + 0.08, 1.5),
      noise(C_BAND_4, CYAN, BAND_START + 0.02, 1.5),
    ],
  },
  {
    left: 480.5, top: 0.5, width: 183, height: 177.5, ticks: U_TICKS, digits: 0, min: -30, max: 30, nameGap: 16,
    name: "{i|u}{r|[V]}",
    traces: [
      noise(E_NOISE_CYAN, CYAN, NOISE_START_TOP),
      noise(E_NOISE_PURPLE, PURPLE, NOISE_START_TOP + 0.04),
      noise(E_NOISE_GREEN, GREEN, NOISE_START_TOP + 0.08),
      noise(E_NOISE_RED, RED, NOISE_START_TOP + 0.02),
      noise(E_NOISE_ORANGE, ORANGE, NOISE_START_TOP + 0.06),
      ...cycle(T_EFFORT, E_DECAY, 1.1),
      noise(E_NOISE_OLIVE, OLIVE, NOISE_START_TOP + 0.03),
      noise(E_NOISE_CENTRE, CYAN, NOISE_START_TOP + 0.09, 1.6),
    ],
  },
  {
    left: 39.5, top: 214.5, width: 183.5, height: 177.5, ticks: X1_TICKS, digits: 1, min: -1.1, max: 1.1, nameGap: 24,
    name: "{i|x}{sub|1}{r|[rad]}",
    traces: [
      slow(B_PINK_T, B_PINK, PINK),
      slow(T_TAIL, B_TAIL_1, GREY),
      slow(B_GREY_T, B_GREY, GREY),
      slow(B_BLUE_T, B_BLUE, BLUE),
      slow(B_PINK_2_T, B_PINK_2, PINK),
      slow(B_CYAN_T, B_CYAN, CYAN),
      slow(B_RED_T, B_RED, RED),
      ...cycle(T_DECAY, X1_DECAY),
      tail(B_TAIL_2, GREEN),
      tail(B_TAIL_3, OLIVE),
    ],
  },
  {
    left: 259.5, top: 214.5, width: 184, height: 177.5, ticks: X2_BOTTOM_TICKS, digits: 0, min: -2.09, max: 2.09, nameGap: 19,
    name: "{i|x}{sub|2}{r|[rad/s]}",
    traces: [
      noise(D_NOISE_1, PINK),
      slow(D_GREY_T, D_GREY, GREY),
      slow(D_BLUE_T, D_BLUE, BLUE),
      slow(D_CYAN_T, D_CYAN, CYAN),
      slow(D_GREEN_T, D_GREEN, GREEN),
      slow(D_PINK_T, D_PINK, PINK),
      ...cycle(T_RATE, X2_DECAY),
      noise(D_NOISE_2, GREY, 0.04),
      noise(D_NOISE_3, BLUE, 0.08),
      noise(D_NOISE_5, GREY, 0.1),
      slow(D_RED_T, D_RED, RED),
      slow(D_ORANGE_T, D_ORANGE, ORANGE),
      slow(D_BROWN_T, D_BROWN, BROWN),
      noise(D_NOISE_4, GREY, 0.02),
      slow(D_YELLOW_T, D_YELLOW, OLIVE),
    ],
  },
  {
    left: 480.5, top: 214.5, width: 183, height: 177.5, ticks: U_TICKS, digits: 0, min: -30, max: 30, nameGap: 16,
    name: "{i|u}{r|[V]}",
    traces: [
      noise(F_GREEN, GREEN, 0.02, 1.4),
      noise(F_PINK, PINK, 0.05, 1.4),
      noise(F_BROWN, BROWN, 0.08, 1.4),
      noise(F_BLUE_OUT, BLUE, 0.1, 1.5),
      noise(F_BLUE_2, BLUE, 0.09, 1.5),
      noise(F_BLUE_MID, BLUE, 0.04, 1.5),
      noise(F_ORANGE, ORANGE, 0.03, 1.5),
      noise(F_GREY, GREY, 0.07, 1.5),
      noise(F_ORANGE_2, ORANGE, 0.11, 1.5),
      noise(F_GREY_2, GREY, 0.01, 1.5),
      noise(F_CYAN_1, CYAN, 0, 1.2),
      noise(F_CYAN_2, CYAN, 0.06, 1.2),
      noise(F_CYAN_3, CYAN, 0.03, 1.2),
    ],
  },
];

const NAME_RICH = {
  i: { fontFamily: FONT, fontSize: 17, fontStyle: "italic" as const, color: "#333" },
  r: { fontFamily: FONT, fontSize: 16, color: "#333" },
  sub: { fontFamily: FONT, fontSize: 11, color: "#333", verticalAlign: "bottom" as const, padding: [4, 0, 0, 0] },
};

export default function App() {
  const ref = useRef<HTMLDivElement>(null);

  useEffect(() => {
    if (!ref.current) return;
    const chart = echarts.init(ref.current, undefined, { renderer: "svg" });

    const tick = (values: number[]) => ({ show: true, length: 2, customValues: values, lineStyle: { color: "#555", width: 0.8 } });

    chart.setOption({
      animation: false,
      grid: PANELS.map((p) => ({
        left: p.left, top: p.top, width: p.width, height: p.height,
        show: true, borderColor: "#808080", borderWidth: 1, backgroundColor: "#fff",
      })),
      xAxis: PANELS.map((_, i) => ({
        gridIndex: i,
        type: "value",
        min: -0.5,
        max: 10.5,
        name: "{i|t}{r|[s]}",
        nameLocation: "middle",
        nameGap: 16,
        nameMoveOverlap: false,
        nameTextStyle: { rich: NAME_RICH },
        axisLine: { show: false },
        axisTick: tick(X_TICKS),
        splitLine: { show: true, lineStyle: { color: "#c8c8c8", width: 1 } },
        axisLabel: { customValues: X_TICKS, fontFamily: FONT, fontSize: 14, color: "#333", margin: 4 },
      })),
      yAxis: PANELS.map((p, i) => ({
        gridIndex: i,
        type: "value",
        min: p.min,
        max: p.max,
        name: p.name,
        nameLocation: "middle",
        nameGap: p.nameGap,
        nameMoveOverlap: false,
        nameTextStyle: { rich: NAME_RICH },
        axisLine: { show: false },
        axisTick: tick(p.ticks),
        splitLine: { show: true, lineStyle: { color: "#dcdcdc", width: 1 } },
        axisLabel: {
          customValues: p.ticks,
          fontFamily: FONT,
          fontSize: 14,
          color: "#333",
          margin: 4,
          formatter: (v: number) => v.toFixed(p.digits).replace("-", "\u2212"),
        },
      })),
      series: PANELS.flatMap((p, i) =>
        p.traces.map((tr) => ({
          type: "line",
          xAxisIndex: i,
          yAxisIndex: i,
          symbol: "none",
          smooth: tr.smooth ? 0.3 : false,
          lineStyle: { color: tr.color, width: tr.width ?? 1 },
          data: tr.t.map((x, k) => [x, tr.v[k]]),
        }))
      ),
    });

    return () => chart.dispose();
  }, []);

  return <div ref={ref} style={{ position: "absolute", left: 0, top: 0, width: 664, height: 428 }} />;
}
